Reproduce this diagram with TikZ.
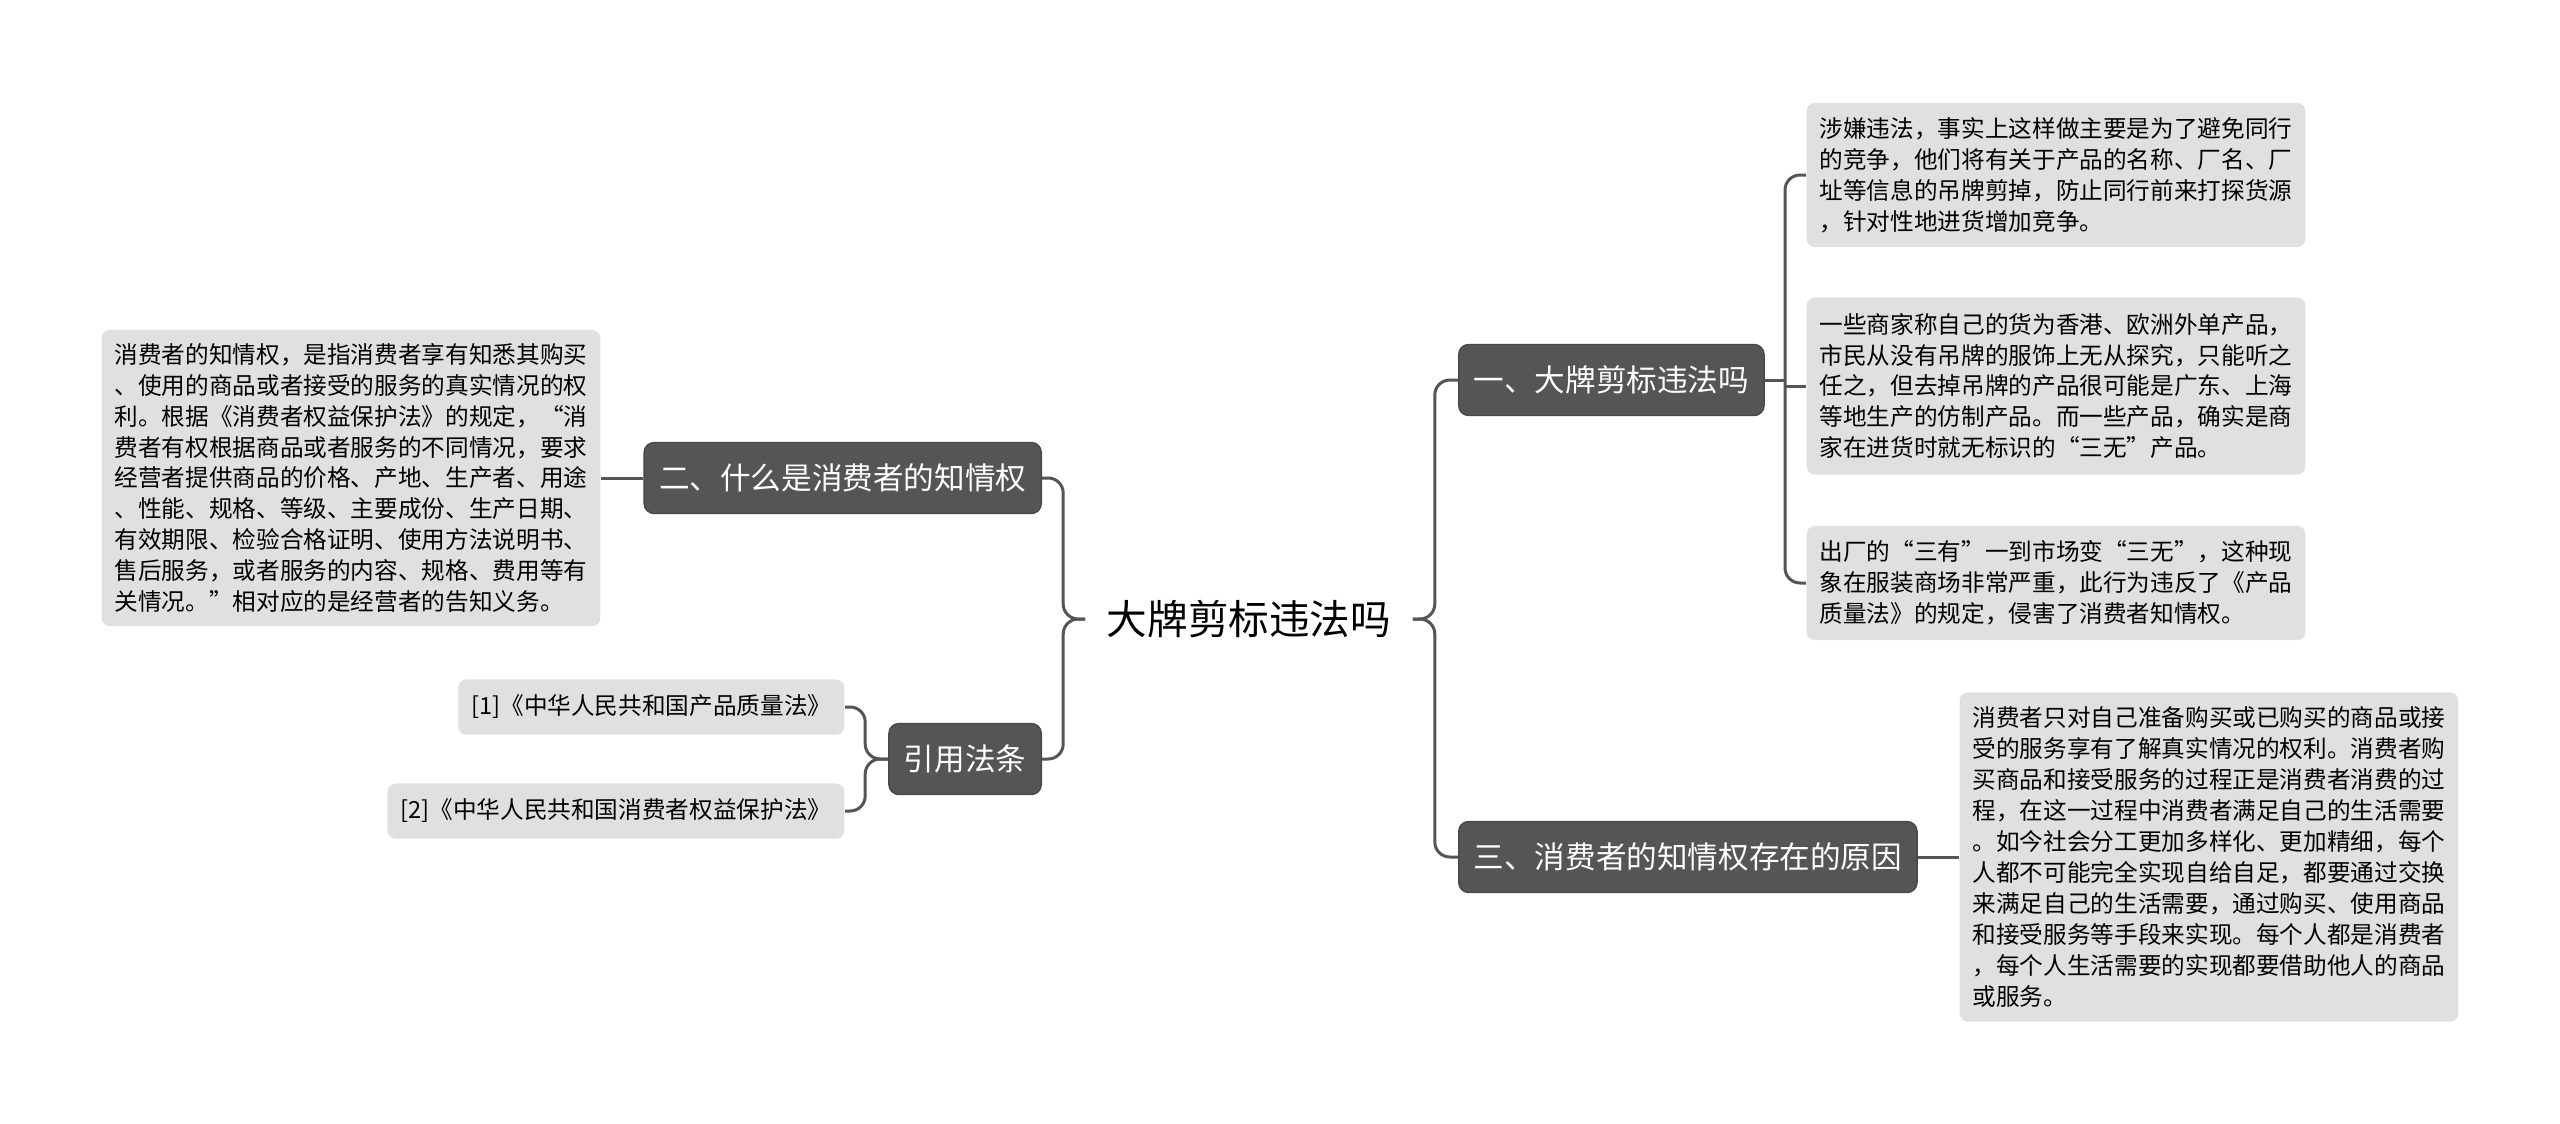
\documentclass[tikz,border=0pt]{standalone}
\usepackage{fontspec}
\setmainfont{Noto Sans CJK SC}
\usetikzlibrary{positioning}
\definecolor{headgray}{HTML}{555555}
\definecolor{notegray}{HTML}{E0E0E0}
\definecolor{linegray}{HTML}{555555}

\begin{document}
\begin{tikzpicture}[
    x=0.01cm, y=-0.01cm,
    head/.style={draw=headgray!85!black, line width=0.4pt, fill=headgray, text=white, rounded corners=0.1cm, minimum height=0.71cm, inner xsep=0.15cm, font=\fontsize{8.7}{10}\selectfont},
    note/.style={fill=notegray, rounded corners=0.08cm, minimum height=#1, inner xsep=0.13cm, inner ysep=0.05cm, align=left, font=\fontsize{6.72}{8.8}\selectfont},
    note/.default=0.55cm,
    con/.style={draw=linegray, line width=0.03cm, rounded corners=0.15cm},
]
\useasboundingbox (0,0) rectangle (2560,1124);

% Root
\node[minimum width=3.26cm, minimum height=0.71cm, font=\fontsize{11.55}{13}\selectfont] (root) at (1249, 619) {大牌剪标违法吗};

% Right heads
\node[head, anchor=west] (one) at (1458, 380) {一、大牌剪标违法吗};
\node[head, anchor=west] (three) at (1458, 857) {三、消费者的知情权存在的原因};

% Left heads
\node[head, anchor=east] (two) at (1042, 478) {二、什么是消费者的知情权};
\node[head, anchor=east] (cite) at (1042, 759) {引用法条};

% Notes of one
\node[note=1.44cm, anchor=west] (n1) at (1806, 175) {涉嫌违法，事实上这样做主要是为了避免同行\\的竞争，他们将有关于产品的名称、厂名、厂\\址等信息的吊牌剪掉，防止同行前来打探货源\\，针对性地进货增加竞争。};
\node[note=1.77cm, anchor=west] (n2) at (1806, 386) {一些商家称自己的货为香港、欧洲外单产品，\\市民从没有吊牌的服饰上无从探究，只能听之\\任之，但去掉吊牌的产品很可能是广东、上海\\等地生产的仿制产品。而一些产品，确实是商\\家在进货时就无标识的“三无”产品。};
\node[note=1.14cm, anchor=west] (n3) at (1806, 583) {出厂的“三有”一到市场变“三无”，这种现\\象在服装商场非常严重，此行为违反了《产品\\质量法》的规定，侵害了消费者知情权。};

% Note of three
\node[note=3.29cm, anchor=west] (n4) at (1959, 857) {消费者只对自己准备购买或已购买的商品或接\\受的服务享有了解真实情况的权利。消费者购\\买商品和接受服务的过程正是消费者消费的过\\程，在这一过程中消费者满足自己的生活需要\\。如今社会分工更加多样化、更加精细，每个\\人都不可能完全实现自给自足，都要通过交换\\来满足自己的生活需要，通过购买、使用商品\\和接受服务等手段来实现。每个人都是消费者\\，每个人生活需要的实现都要借助他人的商品\\或服务。};

% Note of two
\node[note=2.96cm, anchor=east] (n0) at (601, 478) {消费者的知情权，是指消费者享有知悉其购买\\、使用的商品或者接受的服务的真实情况的权\\利。根据《消费者权益保护法》的规定，“消\\费者有权根据商品或者服务的不同情况，要求\\经营者提供商品的价格、产地、生产者、用途\\、性能、规格、等级、主要成份、生产日期、\\有效期限、检验合格证明、使用方法说明书、\\售后服务，或者服务的内容、规格、费用等有\\关情况。”相对应的是经营者的告知义务。};

% Cited laws
\node[note, anchor=east] (r1) at (845, 707) {[1]《中华人民共和国产品质量法》};
\node[note, anchor=east] (r2) at (845, 811) {[2]《中华人民共和国消费者权益保护法》};

% Connectors
\draw[con] (root.east) -- ++(22,0) |- (one.west);
\draw[con] (root.east) -- ++(22,0) |- (three.west);
\draw[con] (root.west) -- ++(-22,0) |- (two.east);
\draw[con] (root.west) -- ++(-22,0) |- (cite.east);

\coordinate (b1) at (1785, 380);
\draw[con] (one.east) -- (b1);
\draw[con] (b1) |- (n1.west);
\draw[con] (b1) |- (n3.west);
\draw[con] (b1 |- n2.west) -- (n2.west);

\draw[con] (three.east) -- (n4.west);
\draw[con] (two.west) -- (n0.east);

\draw[con] (cite.west) -- ++(-23,0) |- (r1.east);
\draw[con] (cite.west) -- ++(-23,0) |- (r2.east);

\end{tikzpicture}
\end{document}
